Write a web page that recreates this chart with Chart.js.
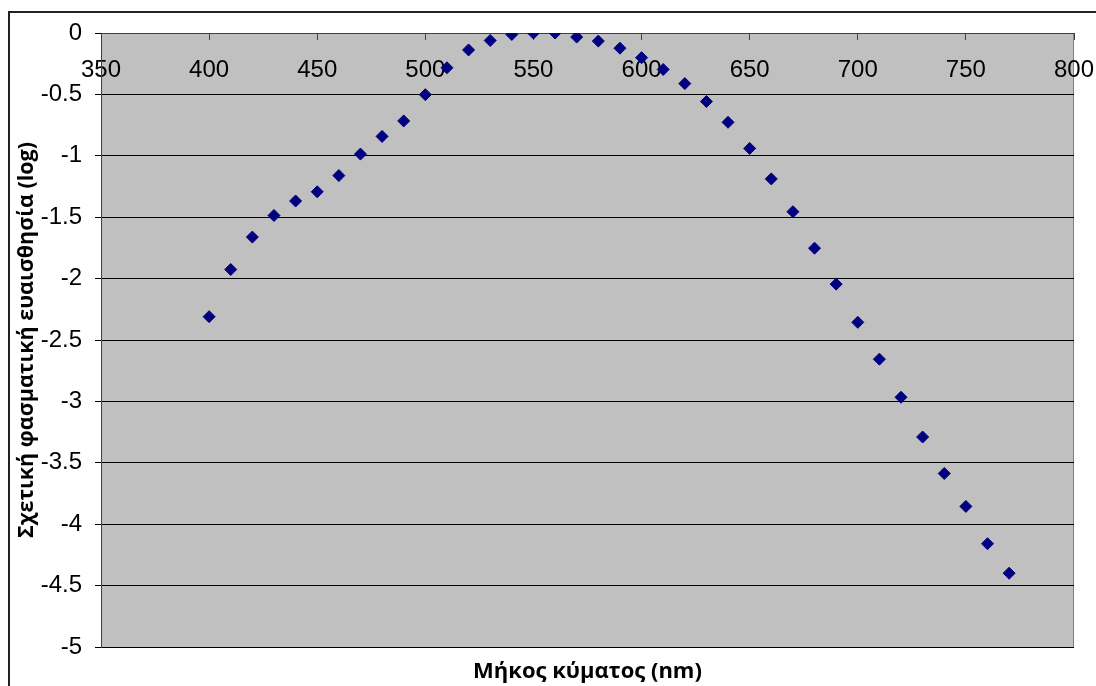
<!DOCTYPE html>
<html lang="el">
<head>
<meta charset="utf-8">
<title>Σχετική φασματική ευαισθησία</title>
<script src="https://cdn.jsdelivr.net/npm/chart.js@4/dist/chart.umd.min.js"></script>
<style>
  html, body { margin: 0; padding: 0; background: #fff; overflow: hidden; }
  #wrap { position: relative; width: 1096px; height: 686px; }
</style>
</head>
<body>
<div id="wrap"><canvas id="sensChart" width="1096" height="686"></canvas></div>
<script>
'use strict';

// Μήκη κύματος (nm) και λογάριθμος σχετικής ευαισθησίας
const WAVELENGTHS = [
  400, 410, 420, 430, 440, 450, 460, 470, 480, 490,
  500, 510, 520, 530, 540, 550, 560, 570, 580, 590,
  600, 610, 620, 630, 640, 650, 660, 670, 680, 690,
  700, 710, 720, 730, 740, 750, 760, 770,
];
const LOG_SENSITIVITY = [
  -2.31, -1.926, -1.662, -1.486, -1.368, -1.293, -1.161, -0.986, -0.842, -0.716,
  -0.502, -0.283, -0.138, -0.061, -0.012, 0, 0, -0.033, -0.066, -0.124,
  -0.201, -0.297, -0.412, -0.558, -0.727, -0.94, -1.188, -1.455, -1.752, -2.045,
  -2.356, -2.656, -2.966, -3.29, -3.587, -3.855, -4.159, -4.399,
];

const X_MIN = 350, X_MAX = 800, X_STEP = 50;
const Y_MIN = -5, Y_MAX = 0, Y_STEP = 0.5;

const X_TITLE = 'Μήκος κύματος (nm)';
const Y_TITLE = 'Σχετική φασματική ευαισθησία (log)';

const PLOT_BG = '#c0c0c0';
const MARKER = '#000080';
const TITLE_FAMILY = '"Open Sans", "Noto Sans", sans-serif';

Chart.defaults.font.family = '"Liberation Sans", Arial, sans-serif';
Chart.defaults.color = '#000';

// Γκρι φόντο περιοχής σχεδίασης + εξωτερικό πλαίσιο
const plotFrame = {
  id: 'plotFrame',
  beforeDraw(chart) {
    const { ctx, chartArea: a } = chart;
    ctx.save();
    ctx.fillStyle = PLOT_BG;
    ctx.fillRect(a.left, a.top, a.right - a.left, a.bottom - a.top);
    ctx.strokeStyle = '#808080';
    ctx.lineWidth = 1;
    ctx.strokeRect(a.left + 0.5, a.top + 0.5, a.right - a.left - 1, a.bottom - a.top);
    ctx.strokeStyle = '#222';
    ctx.lineWidth = 2;
    ctx.strokeRect(9, 12, chart.width + 20, chart.height + 20);
    ctx.restore();
  },
};

const points = WAVELENGTHS.map((x, i) => ({ x, y: LOG_SENSITIVITY[i] }));

new Chart(document.getElementById('sensChart'), {
  type: 'scatter',
  data: {
    datasets: [{
      data: points,
      pointStyle: 'rectRot',
      pointRadius: 6,
      borderWidth: 1,
      borderColor: MARKER,
      backgroundColor: MARKER,
      showLine: false,
    }],
  },
  options: {
    responsive: false,
    animation: false,
    events: [],
    layout: { padding: { left: 0, top: 33, right: 22, bottom: 0 } },
    plugins: {
      legend: { display: false },
      tooltip: { enabled: false },
      title: {
        display: true,
        position: 'bottom',
        fullSize: false,
        text: X_TITLE,
        color: '#000',
        font: { family: TITLE_FAMILY, size: 22, weight: 'bold', lineHeight: 1.2 },
        padding: { top: 12, bottom: 0.6 },
      },
    },
    scales: {
      x: {
        type: 'linear',
        position: { y: 0 }, // ο άξονας x περνά από το y = 0
        min: X_MIN,
        max: X_MAX,
        // οι ετικέτες 350/800 προεξέχουν, χωρίς να στενεύουν την περιοχή
        afterFit: scale => { scale.paddingLeft = 0; scale.paddingRight = 0; },
        ticks: { stepSize: X_STEP, color: '#000', font: { size: 24 }, padding: 17, maxRotation: 0 },
        grid: { drawOnChartArea: false, drawTicks: true, tickLength: 6, color: '#404040' },
        border: { display: true, color: '#404040', width: 1 },
      },
      y: {
        type: 'linear',
        position: 'left',
        min: Y_MIN,
        max: Y_MAX,
        afterFit: scale => { scale.width = 101; },
        ticks: {
          stepSize: Y_STEP,
          color: '#000',
          font: { size: 24 },
          padding: 13,
          callback: v => String(v),
        },
        grid: { color: '#000', lineWidth: 1, tickLength: 6 },
        border: { display: true, color: '#404040', width: 1 },
        title: {
          display: true,
          text: Y_TITLE,
          color: '#000',
          font: { family: TITLE_FAMILY, size: 21.5, weight: 'bold', lineHeight: 1.2 },
          padding: { top: 13.6, bottom: 0 },
        },
      },
    },
  },
  plugins: [plotFrame],
});
</script>
</body>
</html>
